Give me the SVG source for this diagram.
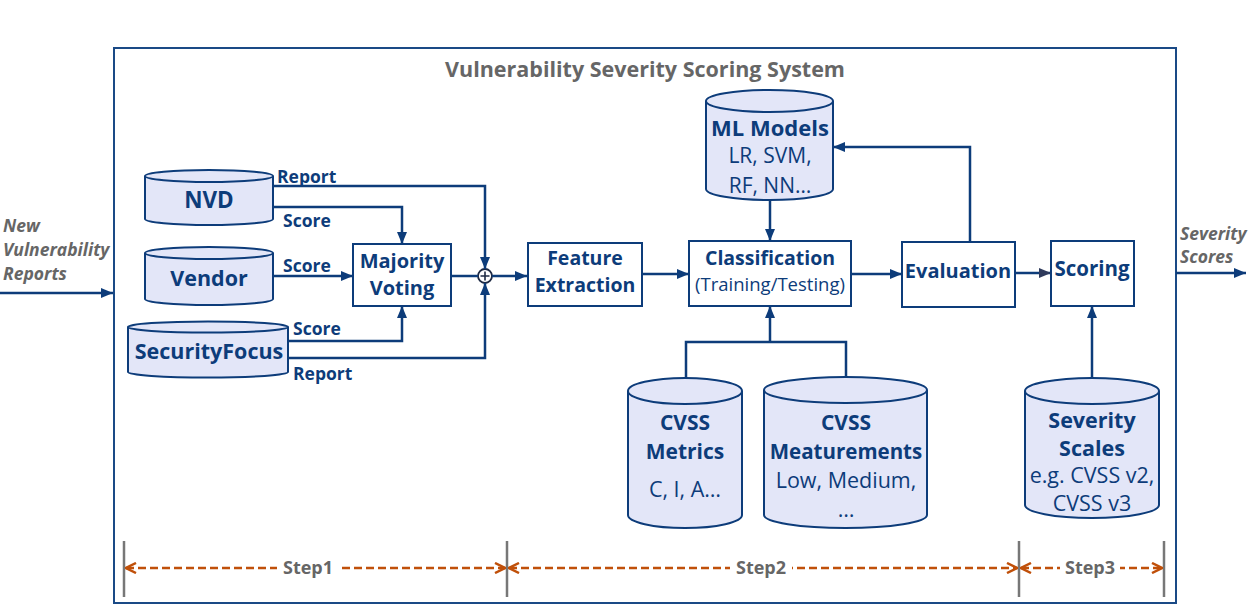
<svg xmlns="http://www.w3.org/2000/svg" width="1250" height="605" viewBox="0 0 1250 605">
<style>
.frame{fill:#fff;stroke:#1a4a86;stroke-width:2}
.cyl{fill:#e3e6f8;stroke:#0d3c7a;stroke-width:2}
.box{fill:#fff;stroke:#0d3c7a;stroke-width:2}
.c{fill:none;stroke:#0d3c7a;stroke-width:2.5}
.t{font-family:"Open Sans","Noto Sans",sans-serif;fill:#0d3c7a;font-weight:700;text-anchor:middle}
.r{font-weight:400}
.lbl{font-family:"Open Sans","Noto Sans",sans-serif;fill:#0d3c7a;font-weight:700;font-size:17.5px}
.gray{font-family:"Open Sans","Noto Sans",sans-serif;fill:#666;font-weight:700}
.it{font-style:italic;font-size:17.5px}
.tick{stroke:#777;stroke-width:2.5}
.step{fill:none;stroke:#c0500a;stroke-width:2.5;stroke-dasharray:8 4}
</style>
<defs>
<marker id="ah" viewBox="0 0 12 10" refX="12" refY="5" markerWidth="12" markerHeight="10" markerUnits="userSpaceOnUse" orient="auto">
<path d="M0,0 L12,5 L0,10 Z" fill="#0d3c7a"/>
</marker>
<marker id="ahg" viewBox="0 0 12 10" refX="12" refY="5" markerWidth="12" markerHeight="10" markerUnits="userSpaceOnUse" orient="auto">
<path d="M0,0 L12,5 L0,10 Z" fill="#2e3a5c"/>
</marker>
<marker id="sa" viewBox="0 0 12 12" refX="11" refY="6" markerWidth="12" markerHeight="12" markerUnits="userSpaceOnUse" orient="auto-start-reverse">
<path d="M1,1 L11,6 L1,11" fill="none" stroke="#c0500a" stroke-width="2.5"/>
</marker>
</defs>
<rect x="0" y="0" width="1250" height="605" fill="#fff"/>
<rect class="frame" x="114" y="48" width="1062" height="555"/>
<text class="gray" x="645" y="77" style="font-size:21.5px" text-anchor="middle">Vulnerability Severity Scoring System</text>

<g id="nvd">
<path class="cyl" d="M145,176 A64,6 0 0 1 273,176 V219 A64,6 0 0 1 145,219 Z"/>
<path class="cyl" d="M145,176 A64,6 0 0 0 273,176"/>
<text class="t" x="209" y="208" style="font-size:22.5px">NVD</text>
</g>
<g id="vendor">
<path class="cyl" d="M145,253 A64,6 0 0 1 273,253 V299 A64,6 0 0 1 145,299 Z"/>
<path class="cyl" d="M145,253 A64,6 0 0 0 273,253"/>
<text class="t" x="209" y="286" style="font-size:21.5px">Vendor</text>
</g>
<g id="securityfocus">
<path class="cyl" d="M128,327 A80,5.5 0 0 1 288,327 V372 A80,5.5 0 0 1 128,372 Z"/>
<path class="cyl" d="M128,327 A80,5.5 0 0 0 288,327"/>
<text class="t" x="209" y="359" style="font-size:21.5px">SecurityFocus</text>
</g>
<g id="majority">
<rect class="box" x="353" y="244" width="98" height="62"/>
<text class="t" x="402" y="268" style="font-size:20px">Majority</text>
<text class="t" x="402" y="295" style="font-size:20px">Voting</text>
</g>
<g id="plus">
<circle cx="485" cy="276" r="7" fill="#fff" stroke="#1e2a44" stroke-width="1.8"/>
<path d="M480.5,276 H489.5 M485,271.5 V280.5" stroke="#1e2a44" stroke-width="1.6"/>
</g>
<g id="feature">
<rect class="box" x="528" y="243" width="114" height="63"/>
<text class="t" x="585" y="265" style="font-size:19.5px">Feature</text>
<text class="t" x="585" y="292" style="font-size:19.5px">Extraction</text>
</g>
<g id="classification">
<rect class="box" x="689" y="241" width="162" height="65"/>
<text class="t" x="770" y="265" style="font-size:19.5px">Classification</text>
<text class="t r" x="770" y="291" style="font-size:18.5px">(Training/Testing)</text>
</g>
<g id="mlmodels">
<path class="cyl" d="M706,101 A63.5,11 0 0 1 833,101 V189 A63.5,11 0 0 1 706,189 Z"/>
<path class="cyl" d="M706,101 A63.5,11 0 0 0 833,101"/>
<text class="t" x="770" y="136" style="font-size:22px">ML Models</text>
<text class="t r" x="770" y="163" style="font-size:21px">LR, SVM,</text>
<text class="t r" x="770" y="193" style="font-size:21px">RF, NN…</text>
</g>
<g id="evaluation">
<rect class="box" x="902" y="242" width="113" height="65"/>
<text class="t" x="958" y="278" style="font-size:20px">Evaluation</text>
</g>
<g id="scoring">
<rect class="box" x="1051" y="241" width="83" height="65"/>
<text class="t" x="1092" y="276" style="font-size:20.5px">Scoring</text>
</g>
<g id="cvssmetrics">
<path class="cyl" d="M628,391 A57,13 0 0 1 742,391 V515 A57,13 0 0 1 628,515 Z"/>
<path class="cyl" d="M628,391 A57,13 0 0 0 742,391"/>
<text class="t" x="685" y="430" style="font-size:21px">CVSS</text>
<text class="t" x="685" y="459" style="font-size:21px">Metrics</text>
<text class="t r" x="685" y="497" style="font-size:21.5px">C, I, A…</text>
</g>
<g id="cvssmeasurements">
<path class="cyl" d="M764,390 A81.5,13 0 0 1 927,390 V515 A81.5,13 0 0 1 764,515 Z"/>
<path class="cyl" d="M764,390 A81.5,13 0 0 0 927,390"/>
<text class="t" x="846" y="430" style="font-size:21px">CVSS</text>
<text class="t" x="846" y="459" style="font-size:20.5px">Meaturements</text>
<text class="t r" x="846" y="488" style="font-size:21.5px">Low, Medium,</text>
<text class="t r" x="846" y="517" style="font-size:21.5px">…</text>
</g>
<g id="severityscales">
<path class="cyl" d="M1025,391 A67,13 0 0 1 1159,391 V505 A67,13 0 0 1 1025,505 Z"/>
<path class="cyl" d="M1025,391 A67,13 0 0 0 1159,391"/>
<text class="t" x="1092" y="428" style="font-size:21.5px">Severity</text>
<text class="t" x="1092" y="456" style="font-size:21.5px">Scales</text>
<text class="t r" x="1092" y="483" style="font-size:21.5px">e.g. CVSS v2,</text>
<text class="t r" x="1092" y="511" style="font-size:21.5px">CVSS v3</text>
</g>

<g id="connectors">
<path class="c" d="M273,186 H485 V269" marker-end="url(#ah)"/>
<path class="c" d="M273,207 H402 V244" marker-end="url(#ah)"/>
<path class="c" d="M273,276 H353" marker-end="url(#ah)"/>
<path class="c" d="M288,341 H402 V306" marker-end="url(#ah)"/>
<path class="c" d="M288,358 H485 V283" marker-end="url(#ah)"/>
<path class="c" d="M451,276 H478"/>
<path class="c" d="M492,276 H527" marker-end="url(#ah)"/>
<path class="c" d="M642,274 H689" marker-end="url(#ah)"/>
<path class="c" d="M770,200 V241" marker-end="url(#ah)"/>
<path class="c" d="M851,274 H902" marker-end="url(#ah)"/>
<path class="c" d="M970,242 V147 H833" marker-end="url(#ah)"/>
<path class="c" d="M1015,273 H1051" stroke="#2e3a5c" marker-end="url(#ahg)"/>
<path class="c" d="M1092,378 V306" marker-end="url(#ah)"/>
<path class="c" d="M686,378 V342 H846 V377"/>
<path class="c" d="M770,342 V306" marker-end="url(#ah)"/>
<path class="c" d="M1176,273 H1246" marker-end="url(#ah)"/>
<path class="c" d="M0,293 H113" marker-end="url(#ah)"/>
</g>

<text class="lbl" x="277" y="183">Report</text>
<text class="lbl" x="283" y="227">Score</text>
<text class="lbl" x="283" y="272">Score</text>
<text class="lbl" x="293" y="335">Score</text>
<text class="lbl" x="293" y="380">Report</text>

<text class="gray it" x="3" y="232">New</text>
<text class="gray it" x="3" y="256">Vulnerability</text>
<text class="gray it" x="3" y="280">Reports</text>
<text class="gray it" x="1180" y="240">Severity</text>
<text class="gray it" x="1180" y="263">Scores</text>

<g id="steps">
<line class="tick" x1="124" y1="541" x2="124" y2="597"/>
<line class="tick" x1="507" y1="541" x2="507" y2="597"/>
<line class="tick" x1="1019" y1="541" x2="1019" y2="597"/>
<line class="tick" x1="1164" y1="541" x2="1164" y2="597"/>
<path class="step" d="M126,568 H505" marker-start="url(#sa)" marker-end="url(#sa)"/>
<path class="step" d="M509,568 H1017" marker-start="url(#sa)" marker-end="url(#sa)"/>
<path class="step" d="M1021,568 H1162" marker-start="url(#sa)" marker-end="url(#sa)"/>
<rect x="277" y="556" width="62" height="22" fill="#fff"/>
<rect x="730" y="556" width="62" height="22" fill="#fff"/>
<rect x="1060" y="556" width="60" height="22" fill="#fff"/>
<text class="gray" x="308" y="574" style="font-size:18px" text-anchor="middle">Step1</text>
<text class="gray" x="761" y="574" style="font-size:18px" text-anchor="middle">Step2</text>
<text class="gray" x="1090" y="574" style="font-size:18px" text-anchor="middle">Step3</text>
</g>
</svg>
